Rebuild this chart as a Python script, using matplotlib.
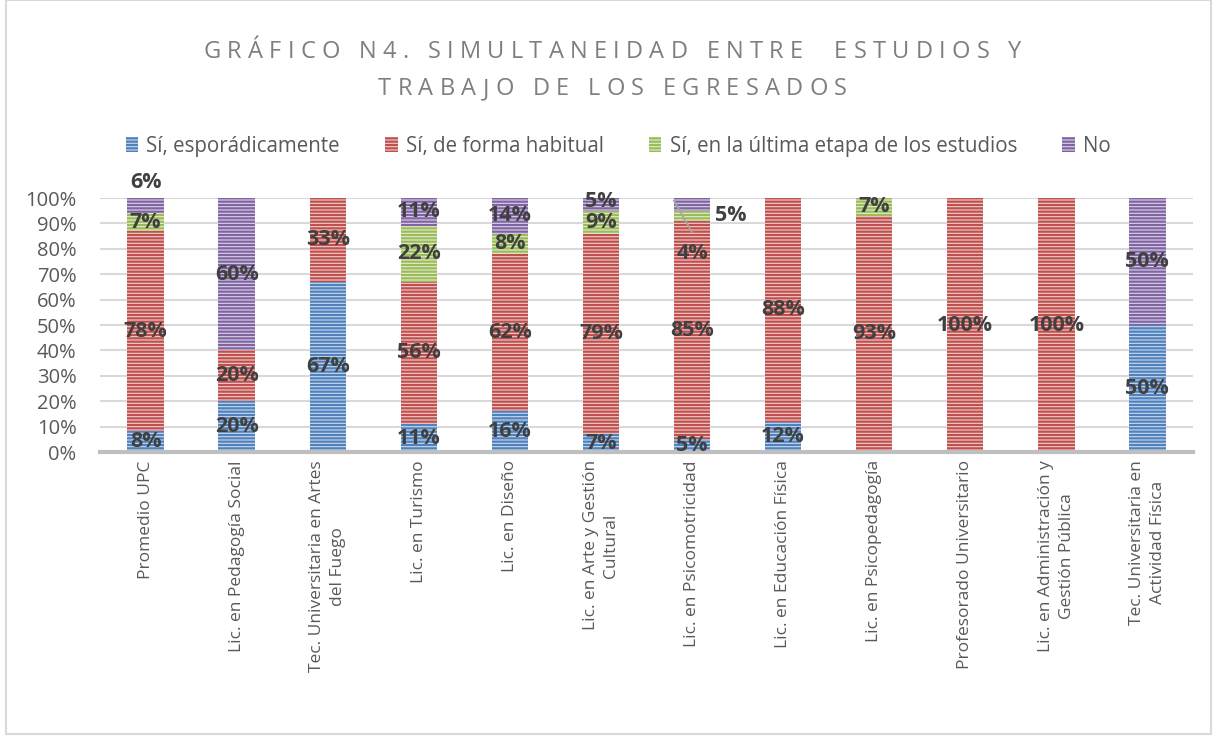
import numpy as np
import matplotlib
matplotlib.use("Agg")
import matplotlib.pyplot as plt
from matplotlib.patches import Patch, Rectangle

plt.rcParams['font.family'] = ['Open Sans', 'DejaVu Sans']
plt.rcParams['hatch.linewidth'] = 1.6

titulo = ["GRÁFICO N4. SIMULTANEIDAD ENTRE  ESTUDIOS Y", "TRABAJO DE LOS EGRESADOS"]

carreras = [
    "Promedio UPC",
    "Lic. en Pedagogía Social",
    "Tec. Universitaria en Artes\ndel Fuego",
    "Lic. en Turismo",
    "Lic. en Diseño",
    "Lic. en Arte y Gestión\nCultural",
    "Lic. en Psicomotricidad",
    "Lic. en Educación Física",
    "Lic. en Psicopedagogía",
    "Profesorado Universitario",
    "Lic. en Administración y\nGestión Pública",
    "Tec. Universitaria en\nActividad Física",
]
series = ["Sí, esporádicamente", "Sí, de forma habitual",
          "Sí, en la última etapa de los estudios", "No"]

esporadico = [8, 20, 67, 11, 16, 7, 5, 12, 0, 0, 0, 50]
habitual = [78, 20, 33, 56, 62, 79, 85, 88, 93, 100, 100, 0]
ultima_etapa = [7, 0, 0, 22, 8, 9, 4, 0, 7, 0, 0, 0]
no_trabaja = [6, 60, 0, 11, 14, 5, 5, 0, 0, 0, 0, 50]

colores = ["#4f81bd", "#c0504d", "#9bbb59", "#8064a2"]
fondos = ["#cbd9ec", "#efcfce", "#e2ecd0", "#dcd3e8"]

valores = np.array([esporadico, habitual, ultima_etapa, no_trabaja], dtype=float)
totales = valores.sum(axis=0)
pct = valores / totales * 100  # 100% apilado, como en Excel

fig = plt.figure(figsize=(12.17, 7.38), dpi=100)
ax = fig.add_axes([0.0822, 0.3875, 0.898, 0.3442])

x = np.arange(len(carreras))
base = np.zeros(len(carreras))
for k in range(4):
    ax.bar(x, pct[k], 0.4, bottom=base, color=fondos[k], edgecolor=colores[k],
           linewidth=0, hatch="-----", zorder=2)
    base += pct[k]

# etiquetas de datos
gris_txt = "#404040"
base = np.zeros(len(carreras))
for k in range(4):
    for i in range(len(carreras)):
        v = valores[k][i]
        if v > 0:
            y = base[i] + pct[k][i] / 2
            xx = x[i]
            if i == 0 and k == 3:
                y = 106
            if i == 5 and k == 3:
                y = 98.6
            if i == 6 and k == 2:
                y = 78
            if i == 6 and k == 3:
                xx = x[i] + 0.42
                y = 93
            ax.text(xx, y, f"{int(v)}%", ha="center", va="center", fontsize=15.5,
                    fontweight="bold", color=gris_txt, zorder=4, clip_on=False)
    base += pct[k]

# linea guia de Psicomotricidad
ax.plot([6 - 0.2, 6], [99, 86.5], color="#a6a6a6", lw=1.3, zorder=3)

ax.set_xlim(-0.5, len(carreras) - 0.5)
ax.set_ylim(0, 100)
ax.set_yticks(np.arange(0, 101, 10))
ax.set_yticklabels([f"{t}%" for t in range(0, 101, 10)], fontsize=14.5, color="#595959")
ax.set_xticks(x)
ax.set_xticklabels(carreras, rotation=90, fontsize=12.5, color="#595959",
                   ha="center", va="top", multialignment="center", linespacing=1.4)
ax.tick_params(length=0, pad=6)
ax.tick_params(axis="y", pad=17)
ax.grid(axis="y", color="#d9d9d9", lw=1.5, zorder=0)
ax.set_axisbelow(True)
for s in ["top", "right", "left"]:
    ax.spines[s].set_visible(False)
ax.spines["bottom"].set_color("#bfbfbf")
ax.spines["bottom"].set_linewidth(3)
ax.spines["bottom"].set_zorder(3)

# titulo con espaciado entre letras
renderer = fig.canvas.get_renderer()
def ancho(s, **kw):
    t = fig.text(0, 0, s + "I", **kw)
    w = t.get_window_extent(renderer).width
    t.remove()
    t = fig.text(0, 0, "I", **kw)
    w -= t.get_window_extent(renderer).width
    t.remove()
    return w

estilo_titulo = dict(fontsize=17, color="#7f7f7f")
tracking = 6.3
W, H = fig.bbox.width, fig.bbox.height
for linea, yc in zip(titulo, [48.5, 86]):
    total = ancho(linea, **estilo_titulo) + tracking * (len(linea) - 1)
    x0 = 612.5 - total / 2
    for j, ch in enumerate(linea):
        if ch == " ":
            continue
        px = x0 + ancho(linea[:j], **estilo_titulo) + tracking * j
        fig.text(px / W, 1 - yc / H, ch, ha="left", va="center_baseline", **estilo_titulo)

handles = [Patch(facecolor=fondos[k], edgecolor=colores[k], linewidth=0, hatch="-----")
           for k in range(4)]
fig.legend(handles, series, loc="center", bbox_to_anchor=(0.508, 0.802), ncol=4,
           frameon=False, fontsize=14.8, handlelength=0.6, handleheight=0.7,
           handletextpad=0.4, columnspacing=2.2, labelcolor="#595959")

fig.patches.append(Rectangle((0.005, 0.005), 0.99, 0.995, transform=fig.transFigure,
                             fill=False, edgecolor="#d9d9d9", lw=1.5))

fig.savefig("out.png", dpi=100)
